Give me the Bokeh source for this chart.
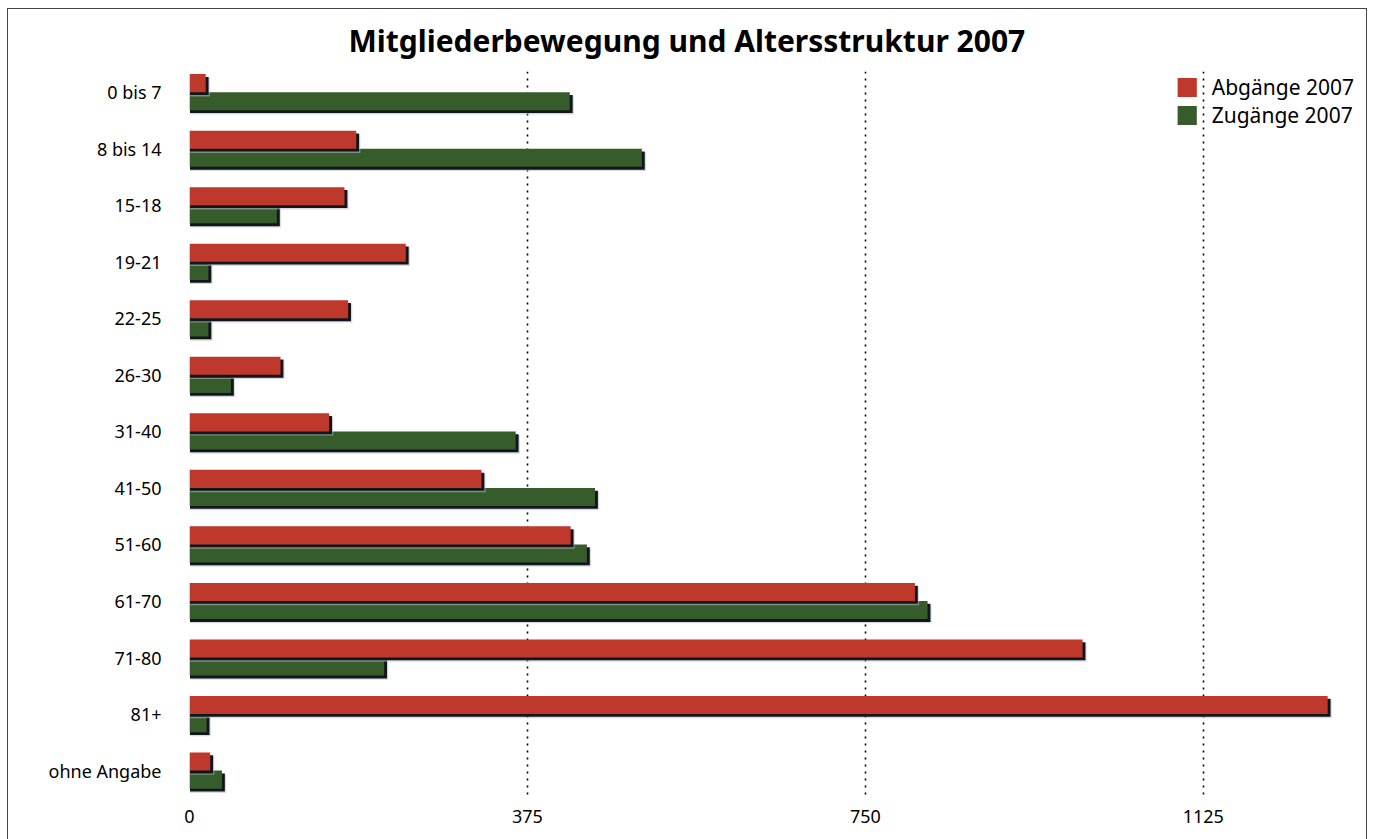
from bokeh.plotting import figure
from bokeh.models import Range1d, FixedTicker, Legend, LegendItem, ColumnDataSource
from bokeh.embed import file_html
from bokeh.resources import INLINE

# ---- data ----
categories = ["0 bis 7", "8 bis 14", "15-18", "19-21", "22-25", "26-30", "31-40",
              "41-50", "51-60", "61-70", "71-80", "81+", "ohne Angabe"]
abgaenge = [18, 185, 172, 240, 176, 101, 155, 324, 423, 805, 991, 1263, 23]
zugaenge = [422, 502, 97, 21, 21, 46, 362, 450, 441, 819, 216, 19, 36]
x_ticks = [0, 375, 750, 1125]
series_names = ["Abgänge 2007", "Zugänge 2007"]
title_text = "Mitgliederbewegung und Altersstruktur 2007"

# ---- styling ----
RED = "#BE392C"
GREEN = "#355C2A"
SHADOW = "#11161c"
HALO = "#b9bcc8"
FONT = "Noto Sans"
BAR_H = 0.32
DX = 3.2      # shadow offset (data units along x)
DY = 0.05     # shadow offset (data units along y)
Y_TOP = -0.366
Y_BOTTOM = 12.494
X_MAX = 1295

idx = list(range(len(categories)))

p = figure(width=1360, height=835,
           x_range=Range1d(0, X_MAX), y_range=Range1d(Y_BOTTOM, Y_TOP),
           output_backend="svg", toolbar_location=None,
           min_border_left=181, min_border_right=12,
           min_border_top=10, min_border_bottom=46,
           margin=(8, 0, 0, 7))
p.styles = {"border": "1px solid #444"}
p.outline_line_color = None
p.background_fill_color = "white"

# grid
p.ygrid.visible = False
p.xgrid.ticker = FixedTicker(ticks=x_ticks[1:])
p.xgrid.grid_line_color = "black"
p.xgrid.grid_line_dash = "2 5"
p.xgrid.grid_line_width = 1.6

def bars(values, offset, color):
    ys = [i + offset for i in idx]
    src = ColumnDataSource(dict(
        y=ys, v=values,
        halo_y=[y + DY + 0.02 for y in ys],
        halo_r=[v + DX + 1.4 for v in values],
        sh_y=[y + DY for y in ys],
        sh_r=[v + DX for v in values],
    ))
    p.hbar(y="halo_y", left=0.8, right="halo_r", height=BAR_H + 0.01, source=src,
           fill_color=HALO, fill_alpha=0.55, line_color=None)
    p.hbar(y="sh_y", left=0.5, right="sh_r", height=BAR_H, source=src,
           fill_color=SHADOW, line_color=None)
    return p.hbar(y="y", left=0, right="v", height=BAR_H, source=src,
                  fill_color=color, line_color=None)

g = bars(zugaenge, BAR_H / 2, GREEN)
r = bars(abgaenge, -BAR_H / 2, RED)

# axes
for ax in (p.xaxis[0], p.yaxis[0]):
    ax.axis_line_color = None
    ax.major_tick_line_color = None
    ax.minor_tick_line_color = None
    ax.major_label_text_font = FONT
    ax.major_label_text_font_size = "18px"
    ax.major_label_text_color = "black"

p.xaxis.ticker = FixedTicker(ticks=x_ticks)
p.xaxis.major_label_standoff = 5
p.yaxis.ticker = FixedTicker(ticks=idx)
p.yaxis.major_label_overrides = {i: c for i, c in zip(idx, categories)}
p.yaxis.major_label_standoff = 22

# title
p.title.text = title_text
p.title.text_font = FONT
p.title.text_font_size = "30px"
p.title.text_font_style = "bold"
p.title.text_color = "black"
p.title.align = "left"
p.title.offset = 159
p.title.vertical_align = "middle"
p.title.standoff = 19

# legend
legend = Legend(items=[LegendItem(label=series_names[0], renderers=[r]),
                       LegendItem(label=series_names[1], renderers=[g])],
                location="top_right")
legend.border_line_color = None
legend.background_fill_alpha = 0
legend.glyph_width = 24
legend.glyph_height = 24
legend.label_height = 24
legend.label_standoff = 13
legend.spacing = 0
legend.padding = 0
legend.margin = 2
legend.label_text_font = FONT
legend.label_text_font_size = "21px"
legend.label_text_line_height = 1.0
legend.label_text_color = "black"
p.add_layout(legend)

open("out.html", "w").write(file_html(p, INLINE))
